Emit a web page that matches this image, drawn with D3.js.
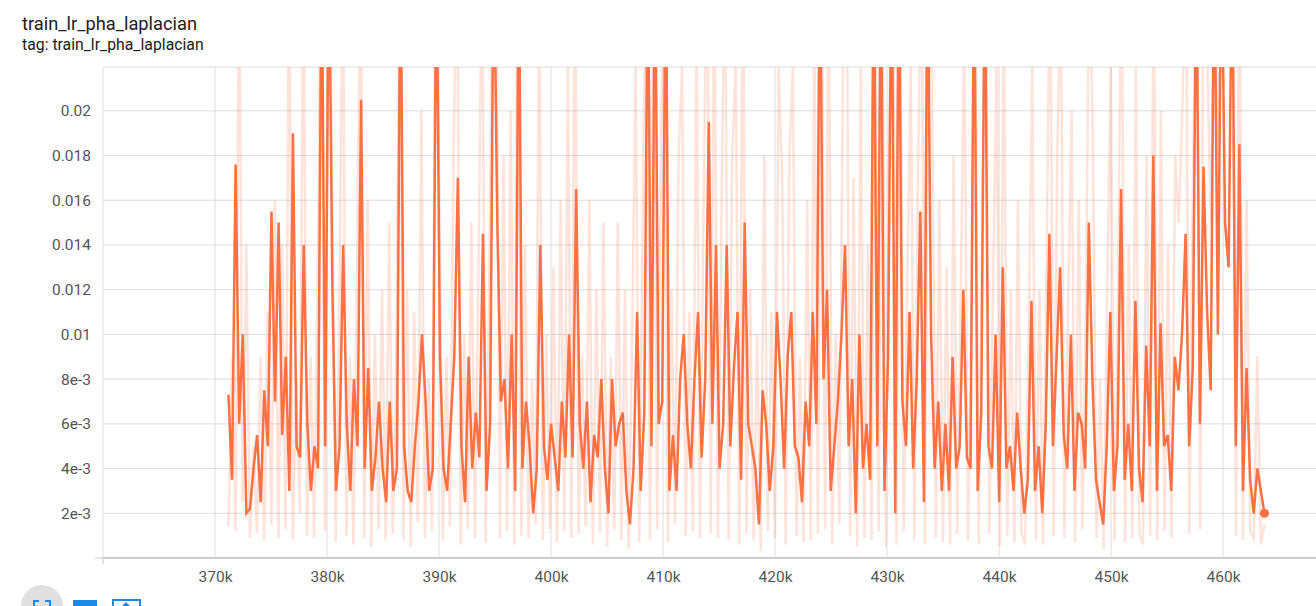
<!DOCTYPE html>
<html><head><meta charset="utf-8">
<script src="https://cdn.jsdelivr.net/npm/d3@7"></script>
<style>
body{margin:0;background:#fff;font-family:Roboto,"Noto Sans",sans-serif;}
svg text{font-family:Roboto,"Noto Sans",sans-serif;}
.grid line{stroke:#ddd;}
.tick text{fill:#555;font-size:15.5px;}
</style></head>
<body><svg id="chart" width="1316" height="606"></svg>
<script>
"use strict";

// values in units of 1e-3, smoothed series
var smoothVals = [7.3,3.5,17.6,6,10,2,2.2,4,5.5,2.5,7.5,5,15.5,7,15,5.5,9,3,19,5,4.5,14,6,3,5,4,28,5,28,12,3,5,14,6,3,8,5,20.5,4,8.5,3,4.5,7,4,2.5,7,3,4,28,5,3,2.5,5,7,10,7,3,4,28,9,4,3,6,9,17,5,2.5,9,4,6.5,4.5,14.5,3,6,28,15,7,8,4,10,3,28,4,7,5,2,4,14,5,3.5,6,4.5,3,7,4.5,10,4.5,16.5,6,4,7,2.5,5.5,4.5,8,4,2,8,5,6,6.5,3,1.5,4,11,3,6.5,28,5,28,6,7,28,3,5.5,3,8,10,6,4,8,11,4.5,8,19.5,6,14,4,6,14,5,8.5,11,3.5,15,6,5,4,1.5,7.5,6,3,5,11,8,4,9,11,5,4.5,2.5,7,5,11,6,28,8,12,3,5,7,10,14,5,8,2,10,4,6,3.5,28,5,28,3,9,28,2,28,7,5,11,4,8,15.5,2.5,28,10,4,7,3,6,3,9,4,5,12,4.5,4,28,3,6.5,28,5,4,10,2.5,13,4,5,3,6.5,4,2,3.5,11.5,3,5,2,6,14.5,5,9,13,5.5,4,10,3,6.5,6,4,15,8,3.5,2.5,1.5,5,11,3,5,16.5,3.5,6,3,11.5,4,2.5,9.5,5,18,3,10.5,5,5.5,3,9,7.5,10,14.5,5,8.5,28,6,17.5,11,7.5,28,10,28,15,13,28,5,18.5,3,8.5,3.5,2,4,3,2];

// raw (unsmoothed) series, drawn pale behind
var rawVals = [1.4,9,1.2,28,2.5,14,0.9,5,1.1,9,0.8,11,1.5,16,0.9,14,1.3,28,0.8,8,2,28,1,9,0.9,13,28,1.2,28,18,0.7,10,28,1,9,0.6,13,28,0.9,16,0.5,10,1.3,12,0.8,15,1.1,9,28,0.8,12,0.5,11,1.6,20,0.9,8,1.2,28,17,0.8,9,1.4,18,28,0.6,10,1.3,15,0.9,13,28,0.7,12,28,28,0.9,18,1.2,20,0.6,28,1,14,0.9,8,1.5,26,0.8,10,1.3,13,0.7,16,1.2,22,0.9,28,1.1,9,1.4,16,0.6,12,1.1,15,0.5,9,1.3,15,0.8,12,0.4,10,22,0.7,16,28,0.8,28,1.3,17,28,0.7,12,1.5,18,22,1,11,1.2,24,0.9,16,28,1.1,28,0.9,15,28,0.8,18,22,0.6,28,1.1,12,0.8,10,0.3,18,1.2,11,0.9,22,17,0.6,18,22,1,9,0.7,16,0.8,24,1.1,28,1.3,28,0.6,10,1.5,22,28,1,17,0.5,22,0.9,14,0.8,28,1.2,28,0.5,20,28,0.6,28,1.2,12,22,0.8,17,28,0.6,28,20,0.9,16,0.7,13,0.6,18,1.1,12,24,0.8,10,28,0.6,15,28,1.1,12,22,0.5,26,1,12,0.7,16,1.1,0.6,10,22,0.8,12,0.6,13,28,1,18,26,0.9,11,20,0.7,16,1.3,11,28,18,0.9,8,0.4,12,22,0.8,12,28,0.7,14,0.9,22,1.1,0.6,18,1,28,0.8,20,1.2,14,0.9,18,15,20,28,1.1,17,28,1.3,28,22,15,28,18,28,28,24,28,1,28,0.8,16,1.2,0.9,9,0.6,1.5];

var stepStart = 371200, stepEnd = 463700;
var xTicks = [370000,380000,390000,400000,410000,420000,430000,440000,450000,460000];
var yTicks = [0.002,0.004,0.006,0.008,0.01,0.012,0.014,0.016,0.018,0.02];

function stepsFor(n){
    return d3.range(n).map(function(i){ return stepStart + i*(stepEnd-stepStart)/(n-1); });
}
var smooth = stepsFor(smoothVals.length).map(function(s,i){ return {x:s, y:smoothVals[i]/1000}; });
var raw = stepsFor(rawVals.length).map(function(s,i){ return {x:s, y:rawVals[i]/1000}; });

var svg = d3.select("#chart");
var pLeft = 103, pRight = 1316, pTop = 67, pBottom = 558;

svg.append("text").attr("x",22).attr("y",30).attr("font-size",18.3).attr("fill","#212121").text("train_lr_pha_laplacian");
svg.append("text").attr("x",22).attr("y",50).attr("font-size",15.8).attr("fill","#212121").text("tag: train_lr_pha_laplacian");

var x = d3.scaleLinear().domain([360000,468300]).range([pLeft,pRight]);
var y = d3.scaleLinear().domain([0,0.02196]).range([pBottom,pTop]);

svg.append("clipPath").attr("id","clip").append("rect")
    .attr("x",pLeft).attr("y",pTop).attr("width",pRight-pLeft).attr("height",pBottom-pTop);

var g = svg.append("g").attr("class","grid");
g.selectAll(".h").data(yTicks.concat([0.02196])).enter().append("line")
    .attr("x1",pLeft).attr("x2",pRight).attr("y1",function(d){return y(d);}).attr("y2",function(d){return y(d);});
g.selectAll(".v").data([360000].concat(xTicks)).enter().append("line")
    .attr("y1",pTop).attr("y2",pBottom).attr("x1",function(d){return x(d);}).attr("x2",function(d){return x(d);});

var yAxis = svg.append("g").attr("transform","translate("+(pLeft-8)+",0)")
    .call(d3.axisLeft(y).tickValues(yTicks).tickSize(0).tickPadding(4).tickFormat(function(d){
        return d < 0.01 ? (d*1000).toFixed(0)+"e-3" : String(+d.toFixed(3));
    }));
yAxis.select(".domain").remove();
svg.append("line").attr("x1",pLeft-8).attr("x2",pLeft).attr("y1",pBottom).attr("y2",pBottom).attr("stroke","#ccc");

var xAxis = svg.append("g").attr("transform","translate(0,"+pBottom+")")
    .call(d3.axisBottom(x).tickValues(xTicks).tickSize(0).tickPadding(13).tickFormat(function(d){ return d/1000+"k"; }));
xAxis.select(".domain").remove();
svg.append("line").attr("x1",pLeft).attr("x2",pRight).attr("y1",pBottom).attr("y2",pBottom).attr("stroke","#ccc").attr("stroke-width",2);
svg.append("line").attr("x1",pLeft).attr("x2",pLeft).attr("y1",pBottom).attr("y2",pBottom+6).attr("stroke","#ccc");

var line = d3.line().x(function(d){return x(d.x);}).y(function(d){return y(d.y);});
var plot = svg.append("g").attr("clip-path","url(#clip)");
plot.append("path").datum(raw).attr("d",line).attr("fill","none")
    .attr("stroke","#ff7043").attr("stroke-opacity",0.2).attr("stroke-width",2.5);
plot.append("path").datum(smooth).attr("d",line).attr("fill","none")
    .attr("stroke","#ff7043").attr("stroke-width",2.5);
var last = smooth[smooth.length-1];
svg.append("circle").attr("cx",x(last.x)).attr("cy",y(last.y)).attr("r",4.5).attr("fill","#ff7043");

// toolbar buttons peeking at the bottom
svg.append("circle").attr("cx",42).attr("cy",606).attr("r",21).attr("fill","#e0e0e0");
svg.append("path").attr("d","M34,606 v-5 h5 M50,606 v-5 h-5").attr("fill","none").attr("stroke","#1e88e5").attr("stroke-width",2);
svg.append("rect").attr("x",73).attr("y",600).attr("width",24).attr("height",6).attr("fill","#1e88e5");
svg.append("rect").attr("x",113).attr("y",600).attr("width",27).attr("height",8).attr("fill","none").attr("stroke","#1e88e5").attr("stroke-width",2);
svg.append("path").attr("d","M122,606 l4,-4 l4,4 z").attr("fill","#1e88e5");
</script></body></html>
